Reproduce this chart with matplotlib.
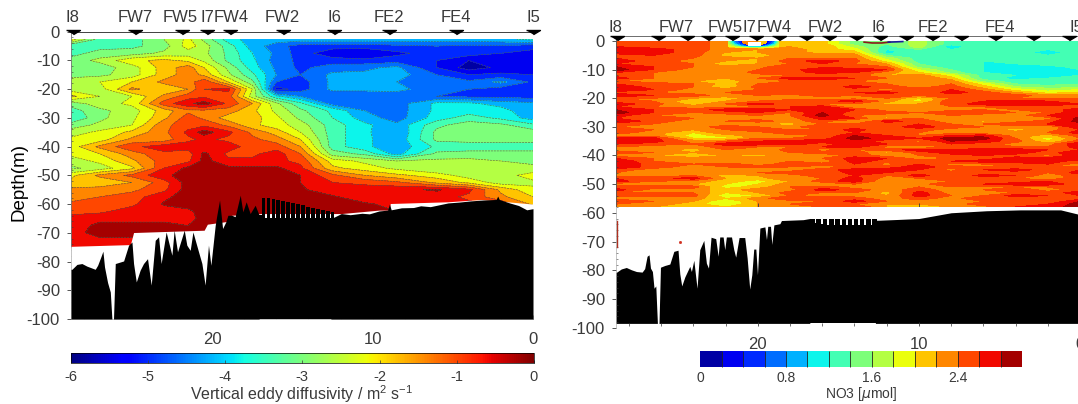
import numpy as np
import matplotlib
matplotlib.use("Agg")
import matplotlib.pyplot as plt
from matplotlib.cm import ScalarMappable
from matplotlib.colors import Normalize
from matplotlib.ticker import MultipleLocator

plt.rcParams['font.family'] = ['Liberation Sans', 'DejaVu Sans']
plt.rcParams['mathtext.default'] = 'regular'

W, H = 1078, 404
GREY = '#3a3a3a'

# stations
left_station_km = [28.7, 24.8, 21.9, 20.3, 18.9, 15.6, 12.4, 9.0, 4.8, 0.0]
right_station_km = [28.75, 26.2, 24.4, 23.1, 21.6, 20.1, 18.7, 17.0, 15.6, 13.9, 12.4, 10.8, 9.2, 7.4, 5.3, 2.9, 0.7]
station_names = ['I8', 'FW7', 'FW5', 'I7', 'FW4', 'FW2', 'I6', 'FE2', 'FE4', 'I5']
left_label_km = [28.7, 24.8, 22.0, 20.3, 18.8, 15.6, 12.4, 9.0, 4.8, 0.0]
right_label_km = [28.85, 25.05, 22.05, 20.5, 19.0, 15.8, 12.5, 9.1, 5.0, 0.2]

# vertical eddy diffusivity (log10), rows are depths, columns are distances
kz_km = [28.8, 27, 25, 23, 21.5, 20.5, 19, 17.5, 16, 14.5, 12.5, 10.5, 8.5, 6, 4, 2, 0]
kz_depth = [-2.7, -5, -7.5, -10, -12.5, -15, -17.5, -20, -22.5, -25, -27.5, -30, -32.5, -35, -37.5, -40, -42.5, -45,
            -47.5, -50, -52.5, -55, -57.5, -60, -62.5, -65, -67.5, -70, -72.5, -75]
kz = [
    [-2.2, -3.4, -3.4, -2.8, -2.3, -2.9, -3.8, -4.2, -4.2, -4.2, -4.2, -4.2, -4.2, -4.2, -4.2, -4.1, -3.9],
    [-3.6, -3.4, -3.3, -3.0, -2.2, -2.6, -3.4, -4.2, -4.6, -5.0, -5.0, -5.0, -4.9, -4.8, -4.9, -4.9, -5.0],
    [-3.4, -3.0, -3.0, -2.7, -2.6, -2.7, -3.3, -4.0, -4.5, -5.0, -5.5, -5.6, -5.3, -5.0, -5.0, -5.2, -5.4],
    [-3.0, -2.7, -2.1, -1.9, -2.1, -2.5, -3.3, -3.9, -4.6, -4.9, -5.0, -5.1, -5.0, -5.2, -5.6, -5.4, -5.4],
    [-2.9, -3.0, -2.6, -1.8, -1.4, -2.0, -2.9, -3.8, -4.5, -4.9, -4.6, -4.5, -4.3, -5.2, -5.8, -5.5, -5.5],
    [-3.0, -2.9, -2.6, -1.8, -1.4, -1.7, -2.7, -3.5, -4.4, -4.8, -4.3, -4.3, -4.2, -4.8, -5.2, -5.1, -5.2],
    [-2.5, -2.4, -2.0, -1.5, -1.4, -0.9, -2.0, -3.1, -4.8, -5.0, -4.3, -4.3, -4.4, -4.7, -4.7, -4.3, -4.9],
    [-2.6, -2.6, -1.5, -1.9, -1.6, -0.8, -0.7, -2.4, -5.4, -5.0, -4.3, -4.3, -4.3, -4.6, -4.8, -5.0, -5.1],
    [-1.9, -2.4, -2.4, -1.5, -1.0, -0.9, -1.0, -2.6, -3.9, -4.4, -4.7, -4.7, -4.6, -4.8, -4.9, -4.9, -5.0],
    [-3.0, -2.6, -2.3, -1.0, -0.5, -0.2, -0.9, -1.6, -2.7, -3.5, -4.6, -4.7, -4.6, -3.9, -3.9, -4.2, -4.3],
    [-3.4, -2.9, -2.6, -1.8, -1.3, -1.3, -1.4, -1.9, -2.5, -3.1, -3.7, -4.4, -4.6, -3.9, -3.8, -3.8, -4.4],
    [-3.6, -2.9, -2.5, -1.7, -1.0, -1.3, -1.8, -1.8, -2.3, -2.9, -3.6, -4.2, -4.6, -3.8, -3.4, -3.7, -4.2],
    [-3.0, -2.7, -2.4, -1.3, -1.0, -0.9, -1.3, -1.9, -2.2, -2.6, -3.4, -3.9, -4.3, -3.3, -3.0, -3.1, -3.5],
    [-2.6, -2.3, -1.9, -1.3, -0.7, -0.2, -0.7, -1.3, -1.8, -2.4, -3.4, -3.9, -4.4, -3.1, -3.0, -3.0, -3.0],
    [-2.3, -2.2, -1.5, -1.4, -0.9, -0.7, -0.9, -1.1, -1.4, -2.0, -3.4, -3.9, -4.3, -3.1, -3.0, -3.0, -3.0],
    [-2.2, -1.5, -0.9, -0.6, -0.6, -0.7, -0.6, -1.0, -1.0, -1.6, -3.4, -3.9, -4.3, -3.5, -3.5, -3.5, -3.5],
    [-2.3, -2.0, -1.4, -0.9, -1.0, -0.3, -0.9, -0.9, -0.6, -1.2, -3.0, -3.3, -4.2, -3.1, -3.0, -3.0, -3.0],
    [-2.6, -2.3, -1.7, -1.0, -0.9, -0.25, -0.7, -0.7, -0.7, -0.9, -2.2, -2.5, -2.8, -2.7, -2.7, -2.8, -2.9],
    [-2.9, -2.6, -2.1, -0.8, -0.3, -0.3, -0.3, -0.3, -0.3, -0.7, -1.9, -2.2, -2.5, -2.8, -2.7, -2.6, -2.7],
    [-2.1, -1.5, -1.1, -0.5, -0.2, -0.2, -0.2, -0.2, -0.2, -0.4, -1.1, -1.6, -1.9, -2.2, -2.6, -2.6, -2.2],
    [-1.9, -1.9, -1.6, -1.0, -0.2, -0.2, -0.2, -0.2, -0.2, -0.4, -0.8, -0.9, -1.1, -1.7, -2.1, -2.6, -2.5],
    [-1.5, -1.4, -1.3, -0.9, -0.2, -0.2, -0.2, -0.2, -0.2, -0.35, -0.6, -0.6, -0.5, -0.35, -0.7, -1.7, -2.3],
    [-1.4, -1.2, -1.0, -0.5, -0.2, -0.2, -0.2, -0.2, -0.2, -0.3, -0.35, -0.6, -0.7, -0.6, -0.9, -1.5, -2.0],
    [-1.1, -1.0, -0.9, -0.35, -0.2, -0.2, -0.2, -0.2, -0.2, -0.2, -0.3, -0.35, -0.5, -0.6, -0.7, -0.9, -1.7],
    [-0.9, -0.9, -0.6, -0.6, -0.5, -0.2, -0.2, -0.2, -0.2, -0.2, -0.2, -0.3, -0.4, -0.5, -0.6, -0.8, -1.2],
    [-0.7, -0.5, -0.5, -0.5, -0.5, -0.3, -0.3, -0.3, -0.3, -0.3, -0.3, -0.3, -0.4, -0.5, -0.6, -0.8, -1.0],
    [-0.6, -0.3, -0.3, -0.3, -0.4, -0.3, -0.3, -0.3, -0.3, -0.3, -0.3, -0.3, -0.4, -0.5, -0.6, -0.8, -1.0],
    [-0.6, -0.2, -0.2, -0.2, -0.2, -0.2, -0.2, -0.2, -0.2, -0.2, -0.2, -0.2, -0.2, -0.2, -0.3, -0.4, -0.8],
    [-0.7, -0.5, -0.5, -0.5, -0.5, -0.5, -0.5, -0.5, -0.5, -0.5, -0.5, -0.5, -0.5, -0.5, -0.5, -0.5, -0.8],
    [-0.8, -0.7, -0.7, -0.7, -0.7, -0.7, -0.7, -0.7, -0.7, -0.7, -0.7, -0.7, -0.7, -0.7, -0.7, -0.7, -0.8],
]
kz_levels = [-6.0, -5.6, -5.2, -4.8, -4.4, -4.0, -3.6, -3.2, -2.8, -2.4, -2.0, -1.6, -1.2, -0.8, -0.4, 0.0]

# bottom edge of the microstructure data, left panel
left_edge_km = [28.8, 25.1, 24.9, 20.5, 20.3, 19.0, 18.8, 16.9, 11.95, 9.6, 8.95, 8.9, 5.3, 3.2, 0.0]
left_edge_depth = [-74.7, -74.1, -69.9, -69.1, -67.0, -66.0, -63.9, -63.3, -63.3, -62.1, -62.1, -59.8, -59.2, -58.4, -60.0]

# bathymetry, left panel: spikes in the west, regular slits in the middle, smooth in the east
left_spike_km = [28.8, 28.74, 28.43, 28.12, 27.81, 27.29, 27.14, 26.94, 26.81, 26.71, 26.52, 26.35, 26.25, 26.15, 26.04,
                 25.52, 25.21, 25.0, 24.9, 24.73, 24.49, 24.28, 24.03, 23.8, 23.55, 23.34, 23.18, 22.87, 22.51, 22.37,
                 22.16, 21.74, 21.58, 21.37, 21.2, 20.85, 20.64, 20.44, 20.23, 20.08, 19.81, 19.71, 19.54, 19.35, 19.15,
                 19.02, 18.77, 18.57, 18.25, 18.09, 17.88, 17.63, 17.32, 17.07]
left_spike_depth = [-82.7, -82.7, -81.0, -80.7, -81.6, -82.7, -81.3, -78.4, -76.4, -81.9, -87.3, -90.6, -100.0, -100.0, -80.7,
                    -79.8, -74.3, -73.2, -80.7, -87.1, -83.0, -80.7, -79.0, -88.2, -72.6, -71.4, -80.7, -69.7, -77.8, -69.1,
                    -76.6, -69.1, -74.3, -76.1, -69.7, -76.6, -80.7, -88.2, -74.3, -81.3, -67.4, -63.9, -58.6, -68.5, -66.2,
                    -63.9, -63.9, -64.4, -56.9, -62.7, -59.2, -63.3, -60.4, -63.9]
left_slit_km = [17.07, 16.92, 16.70, 16.61, 16.39, 16.3, 16.08, 15.99, 15.77, 15.68, 15.46, 15.37, 15.15, 15.06, 14.84,
                14.75, 14.53, 14.44, 14.22, 14.13, 13.91, 13.82, 13.60, 13.51, 13.29, 13.2, 12.98, 12.89, 12.67, 12.58, 12.42]
left_slit_depth = [-63.9, -58.0, -64.8, -58.0, -64.8, -58.2, -64.8, -58.5, -64.8, -58.8, -64.8, -59.2, -64.8, -59.6, -64.8,
                   -60.0, -64.8, -60.4, -64.8, -60.9, -64.8, -61.4, -64.8, -61.8, -64.8, -62.2, -64.8, -62.5, -64.8, -62.8, -64.6]
left_smooth_km = [12.6, 12.42, 11.95, 11.4, 10.66, 10.2, 9.6, 9.06, 8.95, 8.84, 8.2, 7.45, 7.0, 6.4, 5.3, 4.6, 3.9, 3.17, 2.3,
                  2.2, 2.1, 1.46, 0.9, 0.39, 0.0]
left_smooth_depth = [-64.6, -64.6, -63.3, -63.7, -63.2, -63.4, -62.4, -62.1, -60.0, -62.0, -61.3, -61.2, -60.6, -60.9, -59.6,
                     -59.3, -58.9, -58.6, -58.4, -57.2, -58.4, -59.6, -60.5, -62.0, -61.6]

# nitrate, one row per metre of depth, columns are distances
no3_km = [28.8, 26.5, 24, 22, 20, 18, 16, 14, 12, 10, 8, 6, 4, 2, 0]
no3_depth = [-0.3, -1, -2, -3, -4, -5, -6, -7, -8, -9, -10, -11, -12, -13, -14, -15, -16, -17, -18, -19, -20, -21,
             -22, -23, -24, -25, -26, -27, -28, -29, -30, -31, -32, -33, -34, -35, -36, -37, -38, -39, -40, -41, -42,
             -43, -44, -45, -46, -47, -48, -49, -50, -51, -52, -53, -54, -55, -56, -57, -58]
no3 = [
    [2.5, 2.5, 2.5, 2.3, 2.2, 2.0, 2.1, 1.5, 1.4, 1.7, 1.3, 1.4, 1.4, 1.4, 1.4],
    [2.5, 2.5, 2.5, 2.3, 2.2, 2.0, 2.1, 1.5, 1.4, 1.7, 1.3, 1.4, 1.4, 1.4, 1.4],
    [2.6, 2.5, 2.5, 2.3, 2.2, 2.2, 2.2, 1.7, 1.3, 1.7, 1.0, 1.4, 1.4, 1.3, 1.4],
    [2.7, 2.7, 2.5, 2.3, 2.2, 2.3, 2.1, 1.9, 1.2, 1.4, 1.2, 1.3, 1.3, 1.2, 1.4],
    [2.7, 2.7, 2.5, 2.2, 2.2, 2.3, 2.1, 2.1, 1.1, 1.3, 1.3, 1.3, 1.3, 1.1, 1.3],
    [2.5, 2.6, 2.5, 2.1, 2.1, 2.3, 2.3, 2.3, 1.4, 1.3, 1.3, 1.3, 1.4, 1.2, 1.4],
    [2.6, 2.6, 2.4, 2.3, 2.2, 2.4, 2.4, 2.4, 1.7, 1.3, 1.4, 1.3, 1.4, 1.3, 1.4],
    [2.7, 2.5, 2.3, 2.2, 2.2, 2.5, 2.7, 2.5, 1.9, 1.3, 1.4, 1.2, 1.3, 1.4, 1.4],
    [2.6, 2.5, 2.4, 2.0, 2.2, 2.4, 2.6, 2.4, 2.2, 1.4, 1.3, 1.2, 1.2, 1.3, 1.4],
    [2.8, 2.6, 2.4, 2.3, 2.3, 2.6, 2.5, 2.5, 2.4, 1.5, 1.3, 1.2, 1.1, 1.1, 1.3],
    [2.9, 2.6, 2.3, 2.3, 2.4, 2.5, 2.8, 2.7, 2.6, 1.8, 1.4, 1.2, 1.1, 1.1, 1.2],
    [2.6, 2.4, 2.3, 2.2, 2.5, 2.5, 2.7, 2.6, 2.3, 2.0, 1.5, 1.2, 1.2, 1.2, 1.2],
    [2.5, 2.4, 2.2, 2.3, 2.3, 2.4, 2.4, 2.5, 2.2, 2.3, 1.9, 1.3, 1.2, 1.1, 1.2],
    [2.7, 2.4, 2.3, 2.2, 2.4, 2.7, 2.7, 2.6, 2.4, 2.4, 2.1, 1.3, 1.1, 1.2, 1.3],
    [2.4, 2.3, 2.2, 2.1, 2.3, 2.4, 2.5, 2.4, 2.3, 2.3, 2.3, 1.5, 1.3, 1.3, 1.3],
    [2.6, 2.5, 2.4, 2.1, 2.4, 2.6, 2.4, 2.5, 2.4, 2.4, 2.4, 1.9, 1.4, 1.3, 1.4],
    [2.8, 2.5, 2.4, 2.0, 2.5, 2.5, 2.4, 2.7, 2.5, 2.3, 2.5, 2.1, 1.6, 1.5, 1.5],
    [2.8, 2.6, 2.3, 2.3, 2.4, 2.4, 2.5, 2.5, 2.3, 2.6, 2.6, 2.3, 1.9, 1.7, 1.8],
    [2.5, 2.4, 2.3, 2.4, 2.5, 2.6, 2.4, 2.6, 2.7, 2.4, 2.7, 2.5, 2.2, 1.9, 2.0],
    [2.8, 2.6, 2.5, 2.3, 2.4, 2.3, 2.5, 2.4, 2.5, 2.4, 2.5, 2.6, 2.5, 2.3, 2.3],
    [2.4, 2.4, 2.2, 2.1, 2.3, 2.3, 2.3, 2.3, 2.4, 2.0, 2.4, 2.4, 2.4, 2.4, 2.4],
    [2.5, 2.4, 2.0, 2.2, 2.4, 2.5, 2.5, 2.7, 2.3, 1.9, 2.6, 2.6, 2.7, 2.6, 2.5],
    [2.7, 2.5, 2.1, 2.4, 2.7, 2.5, 2.4, 2.4, 2.1, 2.2, 2.5, 2.7, 2.8, 2.8, 2.6],
    [2.6, 2.4, 2.3, 2.3, 2.4, 2.6, 2.7, 2.2, 2.4, 2.3, 2.4, 2.4, 2.5, 2.5, 2.5],
    [2.8, 2.6, 2.5, 2.7, 2.8, 2.6, 2.8, 2.6, 2.3, 2.4, 2.3, 2.4, 2.4, 2.5, 2.7],
    [2.9, 2.6, 2.4, 2.5, 2.6, 2.4, 2.8, 2.5, 2.5, 2.4, 2.6, 2.5, 2.4, 2.4, 2.8],
    [2.7, 2.4, 2.3, 2.3, 2.4, 2.4, 2.9, 2.4, 2.3, 2.3, 2.4, 2.3, 2.3, 2.6, 2.7],
    [2.6, 2.5, 2.4, 2.2, 2.3, 2.3, 2.7, 2.6, 2.1, 2.4, 2.4, 2.4, 2.4, 2.3, 2.9],
    [2.8, 2.5, 2.3, 2.4, 2.5, 2.3, 2.5, 2.1, 2.7, 2.5, 2.3, 2.1, 2.3, 2.5, 2.9],
    [2.5, 2.4, 2.2, 2.3, 2.2, 2.1, 2.4, 2.4, 2.5, 2.6, 2.4, 2.4, 2.6, 2.6, 2.7],
    [2.4, 2.3, 2.3, 2.5, 2.4, 2.3, 2.6, 2.5, 2.5, 2.7, 2.5, 2.4, 2.3, 2.2, 2.8],
    [2.5, 2.4, 2.2, 2.4, 2.6, 2.4, 2.4, 2.7, 2.4, 2.5, 2.3, 2.3, 2.1, 2.3, 2.6],
    [2.5, 2.3, 2.0, 2.4, 2.3, 2.6, 2.6, 2.6, 2.5, 2.4, 2.3, 2.2, 2.3, 2.4, 2.7],
    [2.3, 2.3, 1.9, 2.1, 2.3, 2.3, 2.4, 2.8, 2.6, 2.4, 2.6, 2.7, 2.3, 2.1, 2.5],
    [2.8, 2.7, 2.0, 1.9, 2.4, 2.4, 2.5, 2.9, 2.7, 2.6, 2.9, 2.9, 2.4, 1.9, 2.4],
    [2.8, 2.7, 2.3, 2.4, 2.6, 2.7, 2.7, 2.7, 2.5, 2.3, 2.8, 2.7, 2.5, 2.0, 2.5],
    [2.6, 2.5, 2.4, 2.7, 2.7, 2.7, 2.5, 2.7, 2.6, 2.6, 2.6, 2.5, 2.3, 2.3, 2.8],
    [2.4, 2.3, 2.3, 2.5, 2.4, 2.4, 2.6, 2.7, 2.3, 2.1, 2.4, 2.5, 2.4, 2.4, 2.7],
    [2.3, 2.3, 2.1, 2.4, 2.2, 2.5, 2.3, 2.4, 2.5, 2.7, 2.6, 2.7, 2.7, 2.6, 2.6],
    [2.5, 2.4, 2.2, 2.3, 2.4, 2.4, 2.5, 2.6, 2.1, 2.5, 2.7, 2.8, 2.7, 2.5, 2.8],
    [2.3, 2.2, 2.0, 2.2, 2.1, 2.3, 2.2, 2.5, 2.3, 2.4, 2.5, 2.6, 2.5, 2.3, 2.8],
    [2.6, 2.4, 2.3, 2.4, 2.3, 2.4, 2.4, 2.7, 2.6, 2.3, 2.4, 2.5, 2.7, 2.7, 2.7],
    [2.8, 2.4, 2.2, 2.2, 2.2, 2.4, 2.2, 2.7, 2.5, 2.5, 2.6, 2.7, 2.7, 2.7, 2.5],
    [2.8, 2.5, 2.4, 2.5, 2.3, 2.5, 2.5, 2.6, 2.3, 2.6, 2.3, 2.4, 2.5, 2.6, 2.3],
    [2.8, 2.5, 2.3, 2.4, 2.5, 2.4, 2.3, 2.4, 2.5, 2.7, 2.5, 2.4, 2.4, 2.4, 2.4],
    [2.5, 2.3, 2.3, 2.2, 2.2, 2.3, 2.5, 2.7, 2.7, 2.6, 2.3, 2.6, 2.7, 2.5, 2.6],
    [2.4, 2.2, 2.2, 2.3, 2.4, 2.5, 2.4, 2.7, 2.6, 2.5, 2.5, 2.4, 2.5, 2.4, 2.7],
    [2.3, 2.3, 2.4, 2.1, 2.2, 2.3, 2.5, 2.6, 2.4, 2.7, 2.4, 2.7, 2.6, 2.3, 2.5],
    [2.6, 2.5, 2.7, 2.2, 2.1, 2.4, 2.4, 2.7, 2.3, 2.4, 2.6, 2.4, 2.4, 2.2, 2.6],
    [2.7, 2.4, 2.3, 2.1, 1.9, 2.2, 2.5, 2.7, 2.2, 2.3, 2.4, 2.5, 2.5, 2.6, 2.4],
    [2.3, 2.3, 2.2, 2.0, 2.0, 2.3, 2.2, 2.4, 2.3, 2.3, 2.6, 2.6, 2.7, 2.7, 2.5],
    [2.5, 2.5, 2.5, 1.9, 2.1, 2.4, 2.5, 2.3, 2.4, 2.4, 2.4, 2.3, 2.4, 2.4, 2.6],
    [2.7, 2.3, 2.3, 2.1, 2.3, 2.3, 2.7, 2.5, 2.3, 2.5, 2.3, 2.4, 2.6, 2.3, 2.5],
    [2.4, 2.4, 2.4, 2.0, 2.2, 2.5, 2.4, 2.4, 2.1, 2.7, 2.3, 2.3, 2.4, 2.5, 2.7],
    [2.5, 2.5, 2.5, 1.8, 2.0, 2.4, 2.3, 2.3, 2.2, 2.7, 2.4, 2.4, 2.7, 2.6, 2.6],
    [2.3, 2.2, 2.3, 2.0, 2.3, 2.6, 2.6, 2.5, 2.3, 2.5, 2.3, 2.6, 2.5, 2.4, 2.5],
    [2.6, 2.4, 2.2, 1.8, 2.2, 2.3, 2.4, 2.7, 2.4, 2.3, 2.2, 2.4, 2.5, 2.4, 2.8],
    [2.4, 2.3, 2.1, 1.8, 2.2, 2.4, 2.5, 2.4, 2.2, 2.2, 2.3, 2.5, 2.5, 2.6, 2.9],
    [2.3, 2.2, 2.1, 2.0, 2.2, 2.4, 2.4, 2.6, 2.2, 2.2, 2.2, 2.3, 2.6, 2.7, 2.9],
]
no3_levels = [0.0, 0.2, 0.4, 0.6, 0.8, 1.0, 1.2, 1.4, 1.6, 1.8, 2.0, 2.2, 2.4, 2.6, 2.8, 3.0]

# low nitrate patch at the surface near I7, nan is where nothing was drawn
patch_km = [21.8, 21.4, 21.0, 20.6, 20.2, 19.8, 19.4, 19.0, 18.7]
patch_depth = [-0.3, -1.0, -1.7, -2.4]
patch = [
    [1.6, 0.7, 0.3, np.nan, np.nan, np.nan, 0.3, 0.7, 1.6],
    [1.7, 0.9, 0.4, np.nan, np.nan, np.nan, 0.3, 0.9, 1.7],
    [1.9, 1.4, 0.8, 0.3, 0.2, 0.3, 0.8, 1.4, 1.9],
    [2.1, 2.0, 1.9, 1.8, 1.8, 1.8, 1.9, 2.0, 2.1],
]

# thin streaks
surface_red_km = [13.4, 12.9, 12.3, 11.8]
surface_red_depth = [-0.4, -0.7, -0.7, -0.4]
surface_blue_km = [11.9, 11.4, 11.0]
surface_blue_depth = [-0.4, -0.3, -0.2]
edge_red_km = [28.75, 28.75]
edge_red_depth = [-63.0, -72.0]
speck_km = [24.8]
speck_depth = [-70.3]

# bathymetry, right panel
right_spike_km = [28.8, 28.78, 28.47, 28.16, 27.84, 27.53, 27.18, 27.02, 26.87, 26.75, 26.66, 26.54, 26.44, 26.33, 26.23,
                  26.13, 26.04, 25.77, 25.46, 25.21, 24.95, 24.84, 24.72, 24.53, 24.22, 24.12, 23.97, 23.77, 23.6, 23.35,
                  23.19, 23.06, 22.9, 22.61, 22.46, 22.36, 22.15, 22.05, 21.95, 21.63, 21.49, 21.37, 21.16, 20.81, 20.66,
                  20.5, 20.37, 20.25, 20.12, 20.02, 19.87, 19.56, 19.46, 19.38, 19.21, 19.13, 19.0, 18.63, 18.53, 17.18,
                  16.77]
right_spike_depth = [-80.7, -80.7, -79.5, -79.0, -79.8, -80.4, -80.6, -79.4, -75.1, -74.6, -79.2, -80.4, -86.2, -85.4, -98.4,
                     -98.4, -78.9, -78.3, -77.8, -73.4, -73.0, -81.2, -85.4, -82.3, -78.6, -80.4, -76.5, -86.2, -72.8, -69.6,
                     -77.5, -79.2, -68.5, -69.0, -75.1, -68.4, -68.4, -72.8, -68.4, -68.4, -72.8, -75.4, -68.6, -68.6, -75.7,
                     -86.5, -81.5, -72.6, -72.6, -81.5, -65.3, -64.9, -69.3, -64.7, -64.7, -71.0, -64.2, -63.8, -62.7, -62.4,
                     -62.0]
right_slit_km = [16.77, 16.46, 16.36, 16.07, 15.97, 15.68, 15.58, 15.28, 15.18, 14.9, 14.8, 14.52, 14.42, 14.15, 14.05,
                 13.77, 13.67, 13.38, 13.28, 13.0, 12.9, 12.6, 12.5]
right_slit_depth = [-62.0, -63.5, -62.0, -64.0, -62.0, -64.2, -62.0, -64.3, -62.0, -64.3, -62.0, -64.3, -62.1, -64.3, -62.1,
                    -64.3, -62.2, -64.3, -62.2, -64.3, -62.3, -64.0, -62.6]
right_smooth_km = [12.7, 12.5, 11.2, 10.0, 8.0, 5.8, 3.7, 1.2, 0.1, 0.0]
right_smooth_depth = [-62.6, -62.6, -62.3, -62.0, -60.0, -59.3, -59.0, -59.0, -60.5, -60.5]


def px_axes(fig, x0, y0, x1, y1):
    # pixel box, y measured from the top of the image
    return fig.add_axes([x0 / W, 1 - y1 / H, (x1 - x0) / W, (y1 - y0) / H])


def style_depth_axis(ax, size=12):
    ax.yaxis.set_major_locator(MultipleLocator(10))
    ax.yaxis.set_minor_locator(MultipleLocator(2))
    ax.tick_params(axis='y', which='major', direction='out', length=3, width=0.6, color=GREY,
                   labelcolor=GREY, labelsize=size, pad=5)
    ax.tick_params(axis='y', which='minor', direction='in', length=1.5, width=0.4, color=GREY)
    ax.yaxis.set_major_formatter(lambda v, pos: f'{v:.0f}')


def style_km_axis(ax, labels=True, size=12, pad=6):
    ax.xaxis.set_major_locator(MultipleLocator(10))
    ax.xaxis.set_minor_locator(MultipleLocator(2))
    ax.tick_params(axis='x', which='major', direction='in', length=3, width=0.6, color=GREY,
                   labelcolor=GREY, labelsize=size, pad=pad, labelbottom=labels)
    ax.tick_params(axis='x', which='minor', direction='in', length=2, width=0.5, color=GREY)
    ax.xaxis.set_major_formatter(lambda v, pos: f'{v:.0f}')


def station_row(ax, km, names, label_km, y, label_y, size=12):
    ax.plot(km, [y] * len(km), linestyle='none', marker=[(-1, 0), (1, 0), (0, -0.6)],
            markersize=10, color='black', clip_on=False, zorder=6)
    for name, pos in zip(names, label_km):
        ax.text(pos, label_y, name, ha='center', va='bottom', fontsize=size, color=GREY, clip_on=False)


fig = plt.figure(figsize=(W / 100, H / 100), dpi=100)

# left panel
ax1 = px_axes(fig, 71, 31.7, 533, 319)
ax1.contourf(kz_km, kz_depth, kz, levels=kz_levels, cmap='jet', vmin=-6, vmax=0)
ax1.contour(kz_km, kz_depth, kz, levels=kz_levels[1:-1], colors='#4a5a4a', linewidths=0.4)
ax1.fill_between(left_edge_km, left_edge_depth, -100, color='white', lw=0, zorder=3)
ax1.fill_between(left_spike_km, left_spike_depth, -100, color='black', lw=0, zorder=4)
ax1.fill_between(left_slit_km, left_slit_depth, -100, step='post', color='black', lw=0, zorder=4)
ax1.fill_between(left_smooth_km, left_smooth_depth, -100, color='black', lw=0, zorder=4)
ax1.set_xlim(28.8, 0)
ax1.set_ylim(-100, 0)
style_depth_axis(ax1)
style_km_axis(ax1, size=12, pad=9)
for name in ['left', 'right', 'top', 'bottom']:
    ax1.spines[name].set_linewidth(0.6)
    ax1.spines[name].set_color('#777777')
ax1.spines['top'].set_color('#222222')
ax1.spines['right'].set_visible(False)
ax1.set_ylabel('Depth(m)', fontsize=13.5, color='black')
ax1.yaxis.set_label_coords(-0.095, 0.477)
station_row(ax1, left_station_km, station_names, left_label_km, 0.7, 2.4)

cax1 = px_axes(fig, 70.6, 352.7, 534, 362.7)
cb1 = fig.colorbar(ScalarMappable(Normalize(-6, 0), cmap='jet'), cax=cax1, orientation='horizontal',
                   ticks=[-6, -5, -4, -3, -2, -1, 0])
cb1.ax.tick_params(direction='in', length=2, width=0.5, color=GREY, labelcolor=GREY, labelsize=10.5, pad=5)
cb1.ax.xaxis.set_major_formatter(lambda v, pos: f'{v:.0f}')
cb1.outline.set_linewidth(0.5)
fig.text(302 / W, 1 - 405 / H, 'Vertical eddy diffusivity / m$^{2}$ s$^{-1}$', ha='center', va='bottom',
         fontsize=11.5, color=GREY)

# right panel, upper part holds the data, lower part the bed
ax2 = px_axes(fig, 616, 36, 1080, 207)
cs = ax2.contourf(no3_km, no3_depth, no3, levels=no3_levels, cmap='jet', vmin=0, vmax=3)
ax2.contourf(patch_km, patch_depth, patch, levels=no3_levels, cmap='jet', vmin=0, vmax=3, zorder=3)
ax2.fill_between(patch_km[3:6], -0.5, -1.7, color='white', lw=0, zorder=3.5)
ax2.plot(surface_red_km, surface_red_depth, color='#8b1a1a', lw=1.2, zorder=4)
ax2.plot(surface_blue_km, surface_blue_depth, color='#1a1a9b', lw=1.2, zorder=4)
ax2.set_xlim(28.8, 0)
ax2.set_ylim(-58, 1.74)
style_depth_axis(ax2)
style_km_axis(ax2, labels=False)
ax2.tick_params(axis='x', which='minor', length=0)
ax2.set_yticks([0, -10, -20, -30, -40, -50])
for name in ['left', 'right', 'top', 'bottom']:
    ax2.spines[name].set_linewidth(0.6)
    ax2.spines[name].set_color('#555555')
ax2.spines['right'].set_visible(False)
station_row(ax2, right_station_km, [], [], 1.74, 2.0)
for name, pos in zip(station_names, right_label_km):
    ax2.text(pos, 2.0, name, ha='center', va='bottom', fontsize=12, color=GREY, clip_on=False)

ax3 = px_axes(fig, 616, 207, 1080, 328)
ax3.fill_between(right_spike_km, right_spike_depth, -98.4, color='black', lw=0)
ax3.fill_between(right_slit_km, right_slit_depth, -98.4, step='post', color='black', lw=0)
ax3.fill_between(right_smooth_km, right_smooth_depth, -98.4, color='black', lw=0)
ax3.plot(edge_red_km, edge_red_depth, color='#b03020', lw=1.0)
ax3.plot(speck_km, speck_depth, linestyle='none', marker='s', markersize=1, color='#d03020')
ax3.set_xlim(28.8, 0)
ax3.set_ylim(-100, -58)
style_depth_axis(ax3)
ax3.set_yticks([-60, -70, -80, -90, -100])
style_km_axis(ax3, size=12, pad=8)
ax3.spines['bottom'].set_position(('data', -99.2))
ax3.spines['bottom'].set_visible(False)
for name in ['top', 'right']:
    ax3.spines[name].set_visible(False)
ax3.spines['left'].set_linewidth(0.4)
ax3.spines['left'].set_color('#999999')

cax2 = px_axes(fig, 700.2, 351, 1022, 366.7)
cb2 = fig.colorbar(cs, cax=cax2, orientation='horizontal', drawedges=True, ticks=[0, 0.8, 1.6, 2.4])
cb2.dividers.set_linewidth(0.6)
cb2.dividers.set_color('#222222')
cb2.outline.set_visible(False)
cb2.ax.tick_params(length=0, labelcolor=GREY, labelsize=10, pad=3)
cb2.ax.set_xticklabels(['0', '0.8', '1.6', '2.4'])
fig.text(861 / W, 1 - 403 / H, 'NO3 [$\\mathit{\\mu}$mol]', ha='center', va='bottom', fontsize=10, color=GREY)

fig.savefig('out.png', dpi=100)
